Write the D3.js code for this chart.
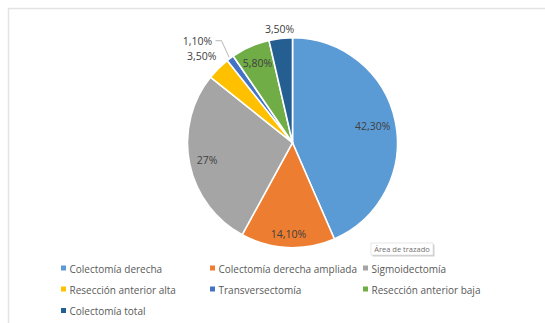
<!DOCTYPE html>
<html>
<head>
<meta charset="utf-8">
<script src="https://cdn.jsdelivr.net/npm/d3@7"></script>
<style>
  html, body { margin: 0; padding: 0; background: #fff; }
  svg { display: block; font-family: "Open Sans", "Noto Sans", sans-serif; }
</style>
</head>
<body>
<svg id="chart" width="545" height="323"></svg>
<script>
// Surgical procedure shares (percent)
const categories = [
  "Colectomía derecha",
  "Colectomía derecha ampliada",
  "Sigmoidectomía",
  "Resección anterior alta",
  "Transversectomía",
  "Resección anterior baja",
  "Colectomía total"
];
const values = [42.3, 14.1, 27, 3.5, 1.1, 5.8, 3.5];
const valueLabels = ["42,30%", "14,10%", "27%", "3,50%", "1,10%", "5,80%", "3,50%"];
const colors = ["#5B9BD5", "#ED7D31", "#A5A5A5", "#FFC000", "#4472C4", "#70AD47", "#255E91"];

const svg = d3.select("#chart");

// Chart area frame
svg.append("rect")
  .attr("x", 8.5).attr("y", 8.5)
  .attr("width", 560).attr("height", 340)
  .attr("fill", "#fff").attr("stroke", "#e3e3e3").attr("stroke-width", 1.5);

const cx = 292.5, cy = 142.7, R = 105;
const data = categories.map((c, i) => ({ name: c, value: values[i], label: valueLabels[i], color: colors[i] }));

const pie = d3.pie().value(d => d.value).sort(null);
const arcs = pie(data);
const arc = d3.arc().innerRadius(0).outerRadius(R);

const g = svg.append("g").attr("transform", `translate(${cx},${cy})`);
g.selectAll("path.slice")
  .data(arcs)
  .join("path")
  .attr("class", "slice")
  .attr("d", arc)
  .attr("fill", d => d.data.color)
  .attr("stroke", "#fff")
  .attr("stroke-width", 1.6)
  .attr("stroke-linejoin", "round");

// Data label radius (as a fraction of R) and small nudges per slice
const labelRadius = [0.78, 0.87, 0.83, 1.17, 1.2, 0.83, 1.09];
const labelNudge = [[0, 0], [0, 0], [0, 0], [-4, 0], [0, 0], [0, 0], [0, 0]];
const pos = arcs.map((d, i) => {
  const a = (d.startAngle + d.endAngle) / 2;
  const r = R * labelRadius[i];
  return [Math.sin(a) * r + labelNudge[i][0], -Math.cos(a) * r + labelNudge[i][1]];
});
// The thinnest slice gets its label pulled out to the upper left
pos[4] = [-95, -102];

// Leader line for the smallest slice
const a4 = (arcs[4].startAngle + arcs[4].endAngle) / 2;
const edge4 = [Math.sin(a4) * R, -Math.cos(a4) * R];
g.append("polyline")
  .attr("points", [[pos[4][0] + 18, pos[4][1]], [pos[4][0] + 24, pos[4][1]], [edge4[0] - 1, edge4[1] - 1]].map(p => p.join(",")).join(" "))
  .attr("fill", "none").attr("stroke", "#a6a6a6").attr("stroke-width", 0.8);

g.selectAll("text.val")
  .data(arcs)
  .join("text")
  .attr("class", "val")
  .attr("x", (d, i) => pos[i][0])
  .attr("y", (d, i) => pos[i][1])
  .attr("text-anchor", "middle")
  .attr("dominant-baseline", "central")
  .attr("font-size", 10.5)
  .attr("fill", "#404040")
  .text(d => d.data.label);

// Legend (three columns)
const colX = [63, 212, 365];
const rowY = [268.5, 289.5, 311];
const legend = svg.append("g");
data.forEach((d, i) => {
  const col = i % 3, row = Math.floor(i / 3);
  const lg = legend.append("g").attr("transform", `translate(${colX[col]},${rowY[row]})`);
  lg.append("rect").attr("x", -2).attr("y", -3).attr("width", 5).attr("height", 5).attr("fill", d.color);
  lg.append("text")
    .attr("x", 6.5).attr("y", 0)
    .attr("dominant-baseline", "central")
    .attr("font-size", 10)
    .attr("fill", "#595959")
    .text(d.name);
});

// Hover tip label for the plot area
const tip = svg.append("g").attr("transform", "translate(371,243)");
tip.append("rect").attr("x", 1.5).attr("y", 1.5).attr("width", 62).attr("height", 12).attr("fill", "#cfcfcf");
tip.append("rect").attr("x", 0).attr("y", 0).attr("width", 62).attr("height", 12)
  .attr("fill", "#fff").attr("stroke", "#d8d8d8").attr("stroke-width", 0.6);
tip.append("text").attr("x", 31).attr("y", 6.3)
  .attr("text-anchor", "middle").attr("dominant-baseline", "central")
  .attr("font-size", 7.5).attr("fill", "#707070")
  .text("Área de trazado");
</script>
</body>
</html>
